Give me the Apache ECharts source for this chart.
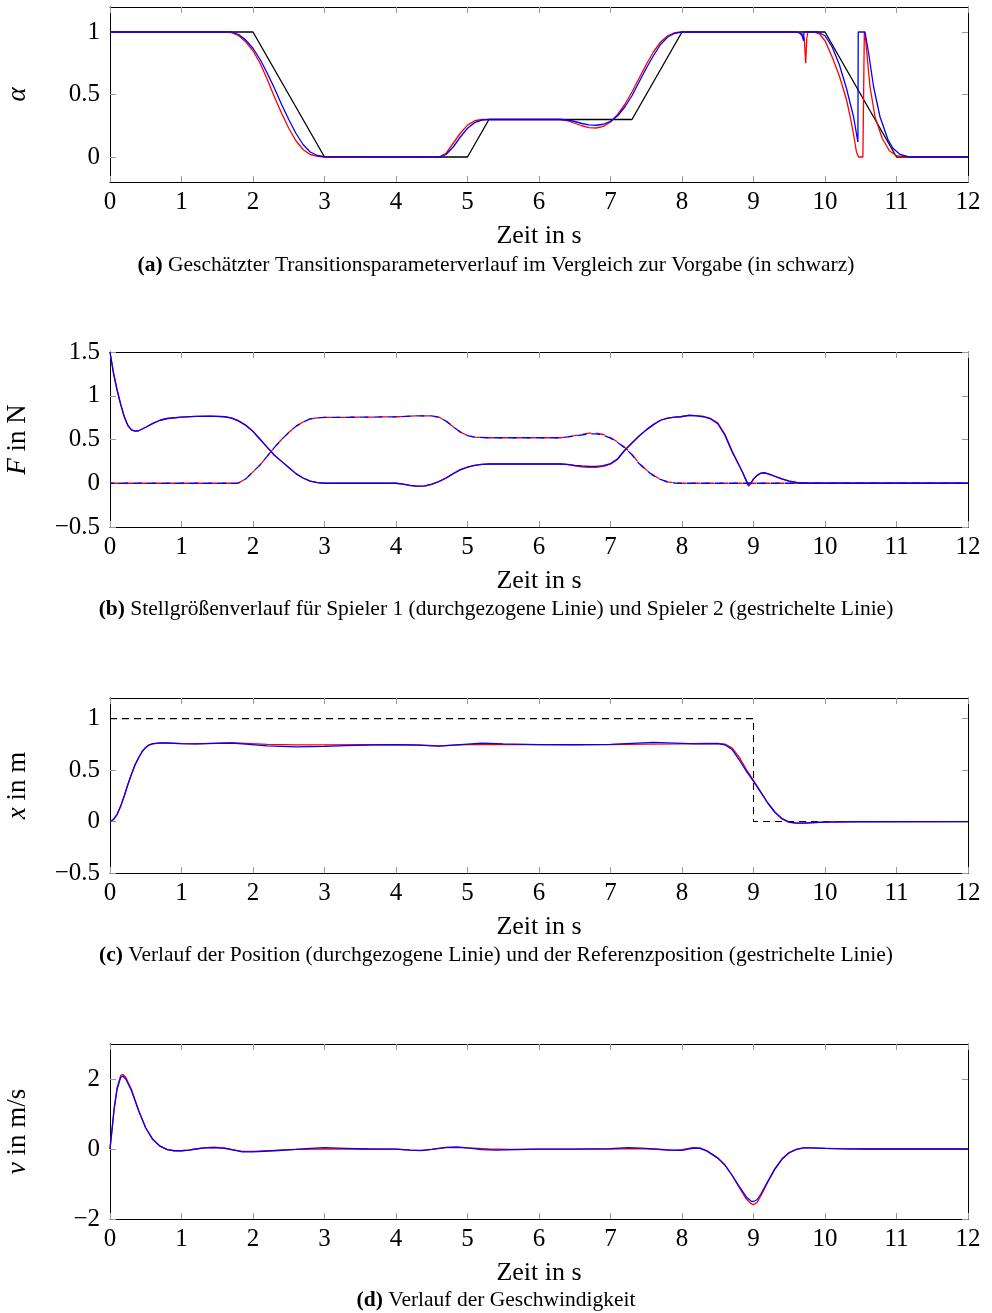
<!DOCTYPE html>
<html><head><meta charset="utf-8">
<script src="https://cdn.jsdelivr.net/npm/echarts@6/dist/echarts.min.js"></script>
<style>html,body{margin:0;padding:0;background:#fff}#c{width:992px;height:1313px}</style>
</head><body><div id="c"></div>
<script>
// ---------- tick labels ----------
const timeTicks = [0,1,2,3,4,5,6,7,8,9,10,11,12];
const alphaTicks = [0,0.5,1];
const forceTicks = [-0.5,0,0.5,1,1.5];
const posTicks = [-0.5,0,0.5,1];
const velTicks = [-2,0,2];

// ---------- (a) transition parameter ----------
const alphaRef = [[0,1],[2,1],[3,0],[5,0],[5.3,0.3],[7.3,0.3],[8,1],[10,1],[11,0],[12,0]];
const alphaRed = [[0,1],[1.6,1],[1.7,0.995],[1.8,0.97],[1.9,0.92],[2.0,0.85],[2.1,0.75],[2.2,0.62],[2.3,0.48],[2.4,0.35],[2.5,0.23],[2.6,0.13],[2.7,0.06],[2.8,0.02],[2.9,0.005],[3.0,0],[4.6,0],[4.7,0.03],[4.8,0.11],[4.9,0.19],[5.0,0.255],[5.1,0.29],[5.2,0.3],[6.3,0.3],[6.4,0.29],[6.5,0.27],[6.6,0.25],[6.7,0.235],[6.8,0.232],[6.9,0.245],[7.0,0.28],[7.1,0.34],[7.2,0.42],[7.3,0.52],[7.4,0.63],[7.5,0.74],[7.6,0.84],[7.7,0.92],[7.8,0.97],[7.9,0.995],[8.0,1],[9.6,1],[9.68,0.985],[9.71,0.95],[9.73,0.75],[9.745,0.95],[9.76,1],[9.85,1],[9.93,0.98],[10.0,0.93],[10.1,0.8],[10.2,0.65],[10.3,0.46],[10.35,0.33],[10.4,0.18],[10.44,0.04],[10.47,0],[10.53,0],[10.55,1],[10.57,0.93],[10.6,0.74],[10.63,0.56],[10.7,0.32],[10.8,0.15],[10.9,0.05],[11.0,0.01],[11.08,0],[12,0]];
const alphaBlue = [[0,1],[1.7,1],[1.8,0.98],[1.9,0.935],[2.0,0.87],[2.1,0.78],[2.2,0.67],[2.3,0.55],[2.4,0.42],[2.5,0.3],[2.6,0.19],[2.7,0.1],[2.8,0.04],[2.9,0.012],[3.0,0.002],[4.62,0],[4.7,0.02],[4.8,0.08],[4.9,0.16],[5.0,0.23],[5.1,0.275],[5.2,0.295],[5.3,0.3],[6.3,0.3],[6.4,0.296],[6.5,0.284],[6.6,0.268],[6.7,0.257],[6.8,0.254],[6.9,0.262],[7.0,0.285],[7.1,0.33],[7.2,0.4],[7.3,0.49],[7.4,0.6],[7.5,0.71],[7.6,0.81],[7.7,0.9],[7.8,0.96],[7.9,0.99],[8.0,1],[9.6,1],[9.65,0.99],[9.68,0.97],[9.7,0.93],[9.705,1],[9.9,1],[10.0,0.97],[10.1,0.88],[10.2,0.74],[10.3,0.55],[10.4,0.32],[10.46,0.12],[10.465,1],[10.56,1],[10.61,0.83],[10.68,0.56],[10.77,0.32],[10.88,0.14],[10.95,0.07],[11.05,0.02],[11.15,0.004],[11.2,0],[12,0]];

// ---------- (b) control forces ----------
const force1Blue = [[0,1.5],[0.05,1.25],[0.1,1.06],[0.15,0.9],[0.2,0.76],[0.25,0.66],[0.3,0.61],[0.35,0.595],[0.4,0.6],[0.5,0.64],[0.6,0.685],[0.7,0.72],[0.8,0.74],[1.0,0.755],[1.2,0.765],[1.4,0.768],[1.6,0.76],[1.7,0.745],[1.8,0.71],[1.9,0.66],[2.0,0.59],[2.1,0.5],[2.2,0.41],[2.3,0.32],[2.4,0.25],[2.5,0.18],[2.6,0.11],[2.7,0.06],[2.8,0.025],[2.9,0.008],[3.0,0],[4.0,0],[4.1,-0.01],[4.2,-0.025],[4.3,-0.034],[4.4,-0.03],[4.5,-0.01],[4.6,0.02],[4.7,0.06],[4.8,0.11],[4.9,0.155],[5.0,0.185],[5.1,0.205],[5.2,0.215],[5.3,0.22],[6.3,0.22],[6.4,0.215],[6.5,0.205],[6.6,0.197],[6.7,0.193],[6.8,0.193],[6.9,0.202],[7.0,0.225],[7.1,0.28],[7.2,0.38],[7.3,0.46],[7.4,0.54],[7.5,0.61],[7.6,0.67],[7.7,0.72],[7.8,0.745],[7.9,0.755],[7.98,0.76],[8.0,0.775],[8.1,0.775],[8.2,0.77],[8.3,0.76],[8.4,0.735],[8.5,0.68],[8.6,0.55],[8.7,0.36],[8.8,0.2],[8.85,0.12],[8.9,0.03],[8.93,-0.015],[8.96,0.0],[9.0,0.05],[9.05,0.09],[9.1,0.115],[9.15,0.12],[9.2,0.11],[9.3,0.08],[9.4,0.05],[9.5,0.025],[9.6,0.01],[9.7,0],[12,0]];
const force1Red = [[0,1.5],[0.05,1.26],[0.1,1.07],[0.15,0.9],[0.2,0.76],[0.25,0.66],[0.3,0.61],[0.35,0.595],[0.4,0.6],[0.5,0.64],[0.6,0.685],[0.7,0.72],[0.8,0.74],[1.0,0.755],[1.2,0.765],[1.4,0.768],[1.6,0.762],[1.7,0.748],[1.8,0.715],[1.9,0.665],[2.0,0.595],[2.1,0.505],[2.2,0.41],[2.3,0.32],[2.4,0.25],[2.5,0.18],[2.6,0.11],[2.7,0.06],[2.8,0.025],[2.9,0.008],[3.0,0],[4.0,0],[4.1,-0.01],[4.2,-0.027],[4.3,-0.036],[4.4,-0.032],[4.5,-0.012],[4.6,0.018],[4.7,0.058],[4.8,0.108],[4.9,0.152],[5.0,0.183],[5.1,0.204],[5.2,0.215],[5.3,0.22],[6.3,0.22],[6.4,0.212],[6.5,0.2],[6.6,0.188],[6.7,0.182],[6.8,0.182],[6.9,0.193],[7.0,0.218],[7.1,0.272],[7.2,0.375],[7.3,0.46],[7.4,0.54],[7.5,0.61],[7.6,0.67],[7.7,0.72],[7.8,0.745],[7.9,0.755],[7.98,0.76],[8.0,0.775],[8.1,0.777],[8.2,0.772],[8.3,0.763],[8.4,0.74],[8.5,0.69],[8.6,0.56],[8.7,0.37],[8.8,0.205],[8.85,0.12],[8.9,0.02],[8.93,-0.035],[8.96,-0.01],[9.0,0.045],[9.05,0.088],[9.1,0.113],[9.15,0.118],[9.2,0.108],[9.3,0.078],[9.4,0.048],[9.5,0.024],[9.6,0.01],[9.7,0],[12,0]];
const force2Blue = [[0,0],[1.75,0],[1.8,0.005],[1.9,0.05],[2.0,0.13],[2.1,0.21],[2.2,0.31],[2.3,0.41],[2.4,0.5],[2.5,0.58],[2.6,0.65],[2.7,0.7],[2.8,0.735],[2.9,0.748],[3.0,0.752],[3.5,0.755],[4.0,0.76],[4.3,0.77],[4.5,0.77],[4.6,0.755],[4.7,0.71],[4.8,0.645],[4.9,0.585],[5.0,0.545],[5.1,0.528],[5.3,0.52],[6.3,0.52],[6.5,0.54],[6.7,0.565],[6.8,0.565],[6.9,0.55],[7.0,0.515],[7.1,0.465],[7.2,0.405],[7.3,0.325],[7.4,0.225],[7.5,0.15],[7.6,0.087],[7.7,0.043],[7.8,0.014],[7.9,0.003],[8.0,0],[12,0]];
const force2Red = [[0,0],[1.75,0],[1.8,0.005],[1.9,0.05],[2.0,0.13],[2.1,0.21],[2.2,0.31],[2.3,0.41],[2.4,0.5],[2.5,0.58],[2.6,0.65],[2.7,0.7],[2.8,0.735],[2.9,0.748],[3.0,0.752],[3.5,0.755],[4.0,0.76],[4.3,0.77],[4.5,0.77],[4.6,0.755],[4.7,0.71],[4.8,0.645],[4.9,0.585],[5.0,0.545],[5.1,0.528],[5.3,0.52],[6.3,0.52],[6.5,0.545],[6.7,0.572],[6.8,0.572],[6.9,0.557],[7.0,0.522],[7.1,0.472],[7.2,0.41],[7.3,0.33],[7.4,0.23],[7.5,0.155],[7.6,0.09],[7.7,0.045],[7.8,0.015],[7.9,0.003],[8.0,0],[12,0]];

// ---------- (c) position ----------
const posRef = [[0,1],[9,1],[9,0],[12,0]];
const posRed = [[0,0],[0.05,0.02],[0.1,0.07],[0.15,0.15],[0.2,0.25],[0.25,0.36],[0.3,0.46],[0.35,0.55],[0.4,0.62],[0.45,0.68],[0.5,0.72],[0.55,0.745],[0.6,0.755],[0.7,0.762],[0.8,0.762],[1.0,0.757],[1.2,0.755],[1.5,0.762],[1.7,0.766],[1.9,0.76],[2.2,0.75],[2.6,0.745],[3.0,0.745],[3.5,0.746],[4.0,0.746],[4.3,0.744],[4.6,0.735],[4.9,0.745],[5.2,0.75],[5.6,0.748],[6.0,0.747],[6.5,0.747],[7.0,0.748],[7.5,0.752],[8.0,0.755],[8.3,0.758],[8.5,0.758],[8.6,0.752],[8.7,0.715],[8.8,0.625],[8.9,0.505],[9.0,0.4],[9.1,0.29],[9.2,0.18],[9.3,0.09],[9.4,0.025],[9.5,-0.008],[9.6,-0.016],[9.7,-0.015],[9.8,-0.01],[10.0,-0.005],[10.4,0],[12,0]];
const posBlue = [[0,0],[0.05,0.02],[0.1,0.07],[0.15,0.15],[0.2,0.25],[0.25,0.36],[0.3,0.46],[0.35,0.55],[0.4,0.62],[0.45,0.68],[0.5,0.72],[0.55,0.745],[0.6,0.756],[0.7,0.764],[0.8,0.763],[1.0,0.757],[1.2,0.754],[1.5,0.76],[1.7,0.762],[1.9,0.752],[2.2,0.735],[2.6,0.725],[3.0,0.73],[3.3,0.737],[3.7,0.744],[4.0,0.746],[4.3,0.742],[4.6,0.732],[4.9,0.748],[5.2,0.762],[5.5,0.755],[6.0,0.747],[6.5,0.746],[7.0,0.75],[7.3,0.76],[7.6,0.768],[7.9,0.762],[8.2,0.755],[8.5,0.757],[8.6,0.746],[8.7,0.7],[8.8,0.6],[8.9,0.49],[9.0,0.39],[9.1,0.285],[9.2,0.18],[9.3,0.09],[9.4,0.028],[9.5,-0.006],[9.6,-0.015],[9.7,-0.016],[9.8,-0.012],[10.0,-0.006],[10.4,-0.002],[12,0]];

// ---------- (d) velocity ----------
const velRed = [[0,0],[0.03,0.6],[0.06,1.2],[0.1,1.75],[0.15,2.1],[0.18,2.13],[0.22,2.05],[0.3,1.7],[0.4,1.1],[0.5,0.6],[0.6,0.27],[0.7,0.08],[0.8,-0.02],[0.9,-0.05],[1.0,-0.05],[1.1,-0.03],[1.2,0.0],[1.3,0.03],[1.45,0.05],[1.6,0.03],[1.75,-0.03],[1.85,-0.07],[2.0,-0.07],[2.3,-0.04],[2.6,-0.01],[3.0,0.0],[3.5,0.0],[4.0,-0.005],[4.2,-0.03],[4.35,-0.04],[4.5,-0.01],[4.7,0.04],[4.85,0.05],[5.0,0.03],[5.3,0.0],[5.6,-0.01],[6.0,-0.005],[6.5,-0.005],[7.0,0.0],[7.3,0.01],[7.6,0.0],[7.9,-0.03],[8.0,-0.02],[8.15,0.04],[8.25,0.03],[8.35,-0.05],[8.5,-0.25],[8.6,-0.45],[8.7,-0.75],[8.8,-1.1],[8.9,-1.43],[8.97,-1.57],[9.0,-1.59],[9.05,-1.53],[9.1,-1.35],[9.2,-0.95],[9.3,-0.58],[9.4,-0.29],[9.5,-0.11],[9.6,-0.01],[9.7,0.03],[9.8,0.035],[10.0,0.02],[10.3,0.005],[10.6,0],[12,0]];
const velBlue = [[0,0],[0.03,0.58],[0.06,1.17],[0.1,1.72],[0.15,2.05],[0.18,2.08],[0.22,2.0],[0.3,1.67],[0.4,1.1],[0.5,0.6],[0.6,0.27],[0.7,0.08],[0.8,-0.02],[0.9,-0.05],[1.0,-0.05],[1.1,-0.03],[1.2,0.0],[1.3,0.025],[1.45,0.04],[1.6,0.02],[1.75,-0.04],[1.85,-0.08],[2.0,-0.08],[2.3,-0.05],[2.6,-0.01],[2.8,0.02],[3.0,0.04],[3.3,0.02],[3.6,0.0],[4.0,-0.005],[4.2,-0.03],[4.35,-0.045],[4.5,-0.01],[4.7,0.045],[4.85,0.055],[5.0,0.03],[5.2,-0.02],[5.4,-0.03],[5.7,-0.015],[6.0,-0.005],[6.5,-0.005],[7.0,0.01],[7.25,0.04],[7.5,0.02],[7.8,-0.03],[8.0,-0.04],[8.15,0.02],[8.25,0.02],[8.35,-0.06],[8.5,-0.26],[8.6,-0.46],[8.7,-0.75],[8.8,-1.07],[8.9,-1.37],[8.97,-1.49],[9.0,-1.5],[9.05,-1.45],[9.1,-1.3],[9.2,-0.92],[9.3,-0.56],[9.4,-0.28],[9.5,-0.1],[9.6,-0.01],[9.7,0.03],[9.8,0.03],[10.0,0.02],[10.3,0.005],[10.6,0],[12,0]];

// ---------- captions ----------
const captions = [
  ['(a)', 'Geschätzter Transitionsparameterverlauf im Vergleich zur Vorgabe (in schwarz)'],
  ['(b)', 'Stellgrößenverlauf für Spieler 1 (durchgezogene Linie) und Spieler 2 (gestrichelte Linie)'],
  ['(c)', 'Verlauf der Position (durchgezogene Linie) und der Referenzposition (gestrichelte Linie)'],
  ['(d)', 'Verlauf der Geschwindigkeit']
];

const SERIF = '"Liberation Serif","DejaVu Serif",serif';
const fmt = v => String(v).replace('-', '\u2212');

const panels = [
  {top: 7,    min: -0.2, max: 1.2, ticks: alphaTicks, name: '{it|α}', capY: 263},
  {top: 352,  min: -0.5, max: 1.5, ticks: forceTicks, name: '{it|F} in N', capY: 607},
  {top: 698,  min: -0.5, max: 1.2, ticks: posTicks, name: '{it|x} in m', capY: 953},
  {top: 1044, min: -2,   max: 3,   ticks: velTicks, name: '{it|v} in m/s', capY: 1298}
];

const grid = [], xAxis = [], yAxis = [], title = [];
panels.forEach((p, i) => {
  grid.push({left: 110, top: p.top, width: 858, height: 175, show: false, containLabel: false, outerBoundsMode: 'none'});
  const tickStyle = {show: true, inside: true, length: 6, lineStyle: {color: '#9a9a9a', width: 1}};
  const lineStyle = {show: true, onZero: false, lineStyle: {color: '#000', width: 1}};
  xAxis.push({
    type: 'value', gridIndex: i, min: 0, max: 12, interval: 1, position: 'bottom',
    axisLine: lineStyle,
    axisTick: Object.assign({customValues: timeTicks}, tickStyle),
    axisLabel: {customValues: timeTicks, margin: 8, fontSize: 25, fontFamily: SERIF, color: '#000', formatter: fmt},
    splitLine: {show: false},
    name: 'Zeit in s', nameLocation: 'middle', nameGap: 41,
    nameTextStyle: {fontSize: 26, fontFamily: SERIF, color: '#000'}
  });
  xAxis.push({
    type: 'value', gridIndex: i, min: 0, max: 12, interval: 1, position: 'top',
    axisLine: lineStyle,
    axisTick: Object.assign({customValues: timeTicks}, tickStyle),
    axisLabel: {show: false}, splitLine: {show: false}
  });
  yAxis.push({
    type: 'value', gridIndex: i, min: p.min, max: p.max, position: 'left',
    axisLine: lineStyle,
    axisTick: Object.assign({customValues: p.ticks}, tickStyle),
    axisLabel: {customValues: p.ticks, margin: 10, fontSize: 25, fontFamily: SERIF, color: '#000', formatter: fmt},
    splitLine: {show: false},
    name: p.name, nameLocation: 'middle', nameGap: 79, nameRotate: 90,
    nameTextStyle: {fontSize: 27, fontFamily: SERIF, color: '#000',
      rich: {it: {fontSize: 27, fontFamily: SERIF, fontStyle: 'italic', color: '#000'}}}
  });
  yAxis.push({
    type: 'value', gridIndex: i, min: p.min, max: p.max, position: 'right',
    axisLine: lineStyle,
    axisTick: Object.assign({customValues: p.ticks}, tickStyle),
    axisLabel: {show: false}, splitLine: {show: false}
  });
  title.push({
    text: '{b|' + captions[i][0] + '} ' + captions[i][1],
    left: 'center', top: p.capY - 14,
    textStyle: {fontSize: 21.5, fontWeight: 'normal', fontFamily: SERIF, color: '#000',
      rich: {b: {fontSize: 21.5, fontWeight: 'bold', fontFamily: SERIF, color: '#000'}}}
  });
});

function line(panel, data, color, opts) {
  opts = opts || {};
  return {
    type: 'line', xAxisIndex: panel * 2, yAxisIndex: panel * 2, data: data,
    symbol: 'none', showSymbol: false, silent: true, smooth: false,
    lineStyle: {color: color, width: opts.width || 1.3, type: opts.type || 'solid', dashOffset: opts.offset || 0},
    z: opts.z || 2
  };
}

const series = [
  line(0, alphaRef, '#000', {z: 1}),
  line(0, alphaRed, '#ff0000'),
  line(0, alphaBlue, '#0000ff', {z: 3}),
  line(1, force2Red, '#ff0000', {type: [9, 5]}),
  line(1, force2Blue, '#0000ff', {type: [9, 5], offset: 5, z: 3}),
  line(1, force1Red, '#ff0000'),
  line(1, force1Blue, '#0000ff', {z: 3}),
  line(2, posRef, '#000', {type: [7, 5], z: 1, width: 1.1}),
  line(2, posRed, '#ff0000'),
  line(2, posBlue, '#0000ff', {z: 3}),
  line(3, velRed, '#ff0000'),
  line(3, velBlue, '#0000ff', {z: 3})
];

const chart = echarts.init(document.getElementById('c'), null, {renderer: 'canvas'});
chart.setOption({animation: false, backgroundColor: '#fff', title, grid, xAxis, yAxis, series});
</script>
</body></html>
